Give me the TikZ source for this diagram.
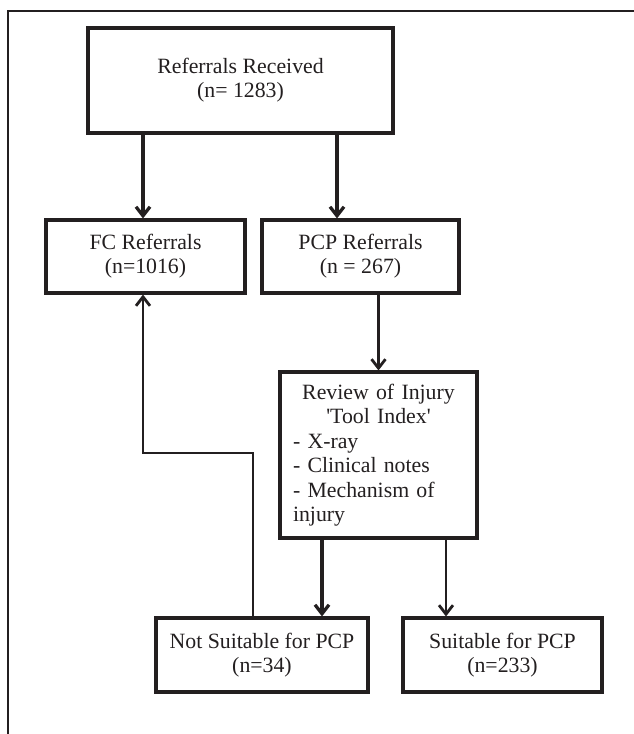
\documentclass[tikz,border=0pt]{standalone}
\usepackage{fontspec}
\setmainfont{Liberation Serif}
\usetikzlibrary{arrows.meta}
\font\sqfont="Liberation Serif" at 21.8pt
\newcommand{\sq}{{\sqfont\char39}}
\definecolor{ink}{HTML}{231F20}
\begin{document}
\begin{tikzpicture}[x=1pt,y=-1pt,
  box/.style={draw=ink, rectangle, line width=3.1pt, inner sep=0pt, align=center,
    text=ink, font=\fontsize{21.8}{24}\selectfont},
  thickarr/.style={draw=ink, line width=3.3pt, -{Straight Barb[length=9pt,width=14pt]}},
  thinarr/.style={draw=ink, line width=2.8pt, -{Straight Barb[length=9pt,width=14pt]}}]
\useasboundingbox (0,0) rectangle (634,734);
\draw[ink, line width=1.4pt] (8,734) -- (8,11) -- (634,11);

\node[box, line width=3.3pt, minimum width=305pt, minimum height=105pt] (top) at (240.5,80.5)
  {Referrals Received\\(n= 1283)};
\node[box, minimum width=199pt, minimum height=73pt] (fc) at (145.5,256.5)
  {FC Referrals\\(n=1016)};
\node[box, minimum width=197pt, minimum height=73pt] (pcp) at (360.5,256.5)
  {PCP Referrals\\(n = 267)};
\node[box, align=left, text width=171pt, inner xsep=13pt, minimum width=197pt,
  minimum height=166pt, font=\fontsize{21.8}{24.5}\selectfont] (rev) at (378.5,455)
  {{\centering Review of Injury\\\sq Tool Index\sq\par}- X-ray\\- Clinical notes\\- Mechanism of\\injury};
\node[box, minimum width=212pt, minimum height=74pt] (ns) at (262,655)
  {Not Suitable for PCP\\(n=34)};
\node[box, minimum width=199pt, minimum height=74pt] (s) at (502.5,655)
  {Suitable for PCP\\(n=233)};

\coordinate (xa) at (143,0);
\coordinate (xb) at (337,0);
\coordinate (xc) at (322,0);
\coordinate (xd) at (446,0);
\coordinate (xe) at (253,0);
\coordinate (bend) at (0,453);

\draw[thickarr] (top.south -| xa) -- (fc.north -| xa);
\draw[thickarr] (top.south -| xb) -- (pcp.north -| xb);
\draw[thinarr] (pcp.south -| rev.north) -- (rev.north);
\draw[thickarr] (rev.south -| xc) -- (ns.north -| xc);
\draw[thinarr] (rev.south -| xd) -- (s.north -| xd);
\draw[thinarr] (ns.north -| xe) -- (xe |- bend) -- (xa |- bend) -- (fc.south -| xa);
\end{tikzpicture}
\end{document}
